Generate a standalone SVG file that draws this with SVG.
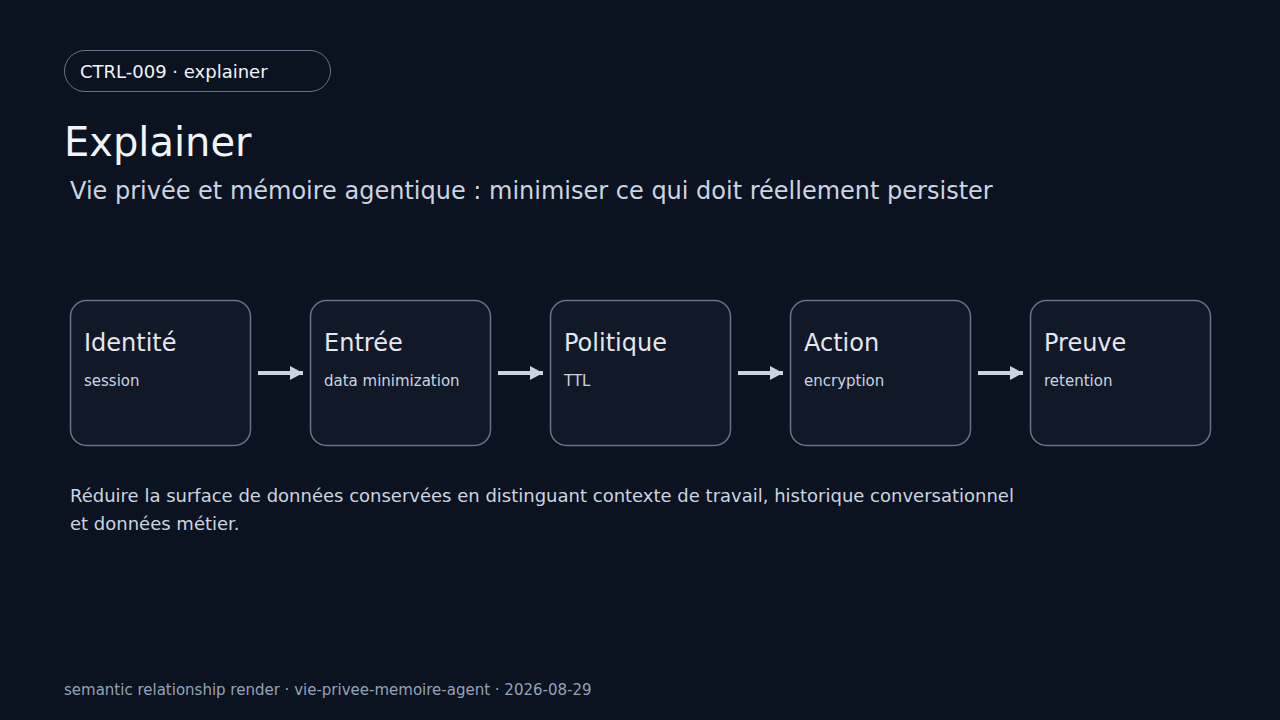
<svg xmlns="http://www.w3.org/2000/svg" width="1280" height="720" viewBox="0 0 1280 720">
<defs>
<style>
text{font-family:"DejaVu Sans","Liberation Sans",sans-serif}
.node rect{fill:#111827;stroke:#64748b;stroke-width:1.5}
.nt{font-size:24px;fill:#e5e7eb}
.ns{font-size:15px;fill:#cbd5e1}
.edge{stroke:#cbd5e1;stroke-width:4;fill:none}
</style>
<marker id="ah" markerWidth="13" markerHeight="14" refX="13" refY="7" orient="auto" markerUnits="userSpaceOnUse" viewBox="0 0 13 14">
<path d="M0,0 L13,7 L0,14 z" fill="#cbd5e1"/>
</marker>
</defs>
<rect width="1280" height="720" fill="#0b1220"/>
<g id="header">
<rect x="64.5" y="50.5" width="266" height="41" rx="20.5" fill="none" stroke="#64748b" stroke-width="1"/>
<text x="80" y="78" font-size="18" fill="#f1f5f9">CTRL-009 · explainer</text>
<text x="64" y="156" font-size="40" fill="#f1f5f9">Explainer</text>
<text x="70" y="199" font-size="24" fill="#cbd5e1">Vie privée et mémoire agentique : minimiser ce qui doit réellement persister</text>
</g>
<g id="n1" class="node"><rect x="70.5" y="300.5" width="180" height="145" rx="16"/><text class="nt" x="84" y="351">Identité</text><text class="ns" x="84" y="386">session</text></g>
<g id="n2" class="node"><rect x="310.5" y="300.5" width="180" height="145" rx="16"/><text class="nt" x="324" y="351">Entrée</text><text class="ns" x="324" y="386">data minimization</text></g>
<g id="n3" class="node"><rect x="550.5" y="300.5" width="180" height="145" rx="16"/><text class="nt" x="564" y="351">Politique</text><text class="ns" x="564" y="386">TTL</text></g>
<g id="n4" class="node"><rect x="790.5" y="300.5" width="180" height="145" rx="16"/><text class="nt" x="804" y="351">Action</text><text class="ns" x="804" y="386">encryption</text></g>
<g id="n5" class="node"><rect x="1030.5" y="300.5" width="180" height="145" rx="16"/><text class="nt" x="1044" y="351">Preuve</text><text class="ns" x="1044" y="386">retention</text></g>
<g id="edges">
<line class="edge" x1="258" y1="373" x2="303" y2="373" marker-end="url(#ah)"/>
<line class="edge" x1="498" y1="373" x2="543" y2="373" marker-end="url(#ah)"/>
<line class="edge" x1="738" y1="373" x2="783" y2="373" marker-end="url(#ah)"/>
<line class="edge" x1="978" y1="373" x2="1023" y2="373" marker-end="url(#ah)"/>
</g>
<g id="body">
<text x="70" y="502" font-size="18" fill="#cbd5e1">Réduire la surface de données conservées en distinguant contexte de travail, historique conversationnel</text>
<text x="70" y="530" font-size="18" fill="#cbd5e1">et données métier.</text>
</g>
<text x="64" y="695" font-size="15" fill="#94a3b8">semantic relationship render · vie-privee-memoire-agent · 2026-08-29</text>
</svg>
